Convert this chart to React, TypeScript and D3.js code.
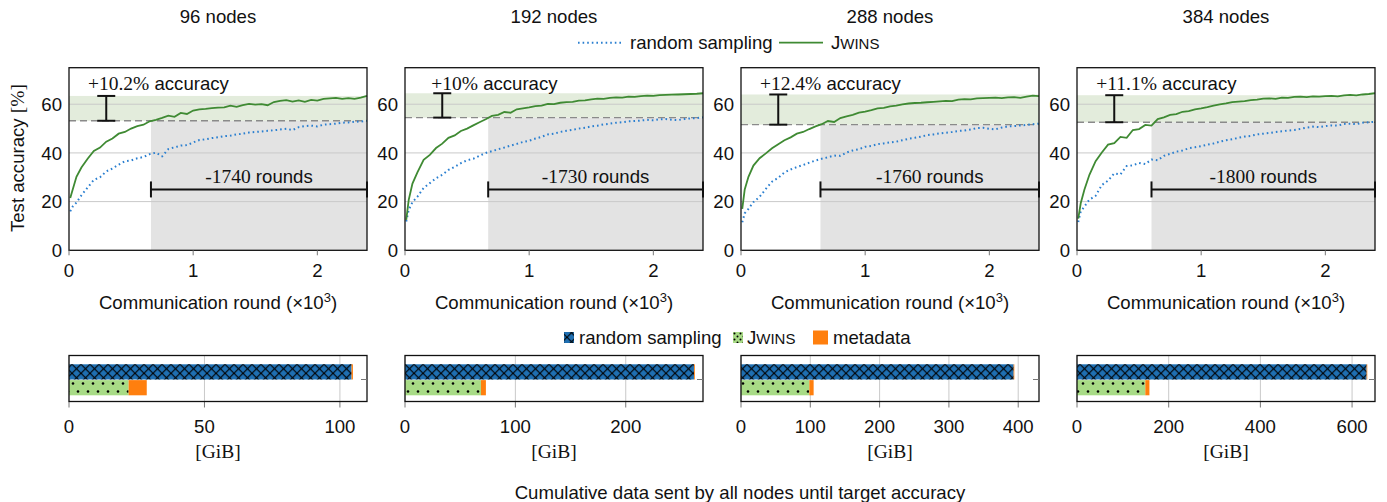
import React from 'react'
import * as d3 from 'd3'

// panel titles
const nodeCounts = ['96 nodes', '192 nodes', '288 nodes', '384 nodes']

// communication rounds (x10^3) where accuracy was sampled
const rounds = [
	0.01, 0.03, 0.06, 0.1, 0.15, 0.2, 0.25, 0.3, 0.35, 0.4, 0.45, 0.5, 0.55, 0.6, 0.65, 0.7, 0.75,
	0.8, 0.85, 0.9, 0.95, 1.0, 1.05, 1.1, 1.15, 1.2, 1.25, 1.3, 1.35, 1.4, 1.45, 1.5, 1.55, 1.6,
	1.65, 1.7, 1.75, 1.8, 1.85, 1.9, 1.95, 2.0, 2.05, 2.1, 2.15, 2.2, 2.25, 2.3, 2.35, 2.4,
]

// test accuracy [%]
const random96 = [
	16.0, 18.0, 19.6, 22.6, 25.8, 28.9, 30.0, 32.4, 33.6, 35.2, 36.6, 36.9, 37.8, 38.3, 39.5, 40.1,
	38.6, 41.6, 42.3, 43.0, 43.2, 44.3, 45.3, 45.6, 46.1, 46.4, 46.9, 47.1, 47.6, 47.9, 48.4, 48.6,
	48.8, 49.1, 49.3, 49.6, 49.9, 49.4, 50.6, 51.0, 51.2, 50.9, 51.6, 51.8, 52.0, 52.4, 52.5, 52.8,
	52.9, 53.2,
]
const jwins96 = [
	21.5, 25.0, 30.2, 34.0, 37.6, 40.8, 42.2, 44.6, 45.9, 47.9, 48.6, 50.0, 51.0, 51.6, 53.0, 53.6,
	54.4, 55.3, 54.8, 56.4, 56.0, 57.4, 57.9, 58.1, 58.4, 58.6, 58.7, 59.4, 58.9, 59.6, 60.1, 59.8,
	60.0, 59.6, 60.9, 61.4, 61.7, 61.1, 61.6, 61.0, 61.8, 61.5, 62.2, 62.4, 62.6, 62.2, 62.5, 62.2,
	62.7, 63.4,
]
const random192 = [
	11.8, 16.6, 19.8, 22.0, 25.6, 27.6, 29.6, 31.0, 33.0, 34.3, 35.8, 37.0, 37.6, 38.8, 40.0, 40.7,
	41.5, 42.2, 43.0, 43.7, 44.5, 45.0, 45.9, 46.6, 47.6, 47.9, 48.6, 49.1, 49.5, 50.0, 50.3, 50.9,
	51.2, 51.7, 52.0, 52.4, 52.6, 53.0, 53.1, 53.3, 53.6, 53.4, 53.8, 53.9, 53.6, 53.5, 53.9, 54.2,
	54.3, 54.6,
]
const jwins192 = [
	12.5, 20.7, 27.4, 32.0, 37.2, 39.2, 42.0, 43.8, 46.2, 47.2, 49.0, 50.0, 51.3, 52.6, 53.8, 55.2,
	55.6, 56.8, 56.5, 57.9, 58.3, 58.7, 59.2, 59.4, 60.1, 60.0, 60.6, 60.9, 61.0, 61.5, 61.6, 62.0,
	62.3, 62.2, 62.6, 62.8, 62.7, 63.1, 63.0, 63.3, 63.5, 63.4, 63.7, 63.8, 63.9, 64.0, 64.1, 64.2,
	64.3, 64.5,
]
const random288 = [
	11.5, 15.2, 17.0, 19.8, 22.0, 25.2, 28.2, 29.8, 32.0, 33.2, 34.2, 35.0, 36.0, 36.9, 37.6, 38.2,
	38.9, 38.8, 40.2, 41.0, 41.5, 42.5, 42.9, 43.6, 43.9, 44.3, 44.6, 45.2, 45.8, 46.2, 46.7, 47.3,
	47.6, 48.0, 48.3, 48.6, 49.0, 49.2, 49.6, 50.2, 50.3, 49.9, 49.7, 50.4, 50.9, 51.0, 51.3, 51.5,
	51.8, 52.0,
]
const jwins288 = [
	17.0, 25.0, 30.2, 34.8, 37.8, 39.8, 41.9, 43.6, 45.2, 46.4, 47.9, 48.6, 49.8, 50.9, 51.8, 53.1,
	52.7, 54.3, 55.0, 55.6, 56.5, 57.0, 57.6, 58.3, 58.5, 59.1, 59.4, 59.9, 60.3, 60.5, 60.6, 60.8,
	61.0, 61.2, 61.4, 61.3, 61.9, 62.1, 62.0, 62.4, 62.5, 62.6, 62.7, 62.5, 62.8, 62.9, 62.6, 63.1,
	63.5, 63.3,
]
const random384 = [
	11.6, 15.9, 18.0, 20.8, 22.4, 26.8, 28.6, 31.6, 31.2, 34.6, 34.9, 35.9, 35.4, 37.3, 37.0, 38.8,
	39.6, 40.5, 41.0, 41.9, 42.3, 42.8, 43.4, 43.9, 44.6, 45.2, 45.6, 46.2, 46.7, 47.0, 47.6, 47.9,
	48.2, 48.6, 48.9, 49.2, 49.4, 49.9, 50.4, 50.8, 50.6, 51.0, 51.3, 51.2, 51.9, 52.0, 51.8, 52.4,
	52.6, 52.8,
]
const jwins384 = [
	13.0, 19.3, 25.0, 31.0, 36.6, 40.2, 43.4, 44.0, 46.6, 46.2, 49.4, 49.8, 51.5, 51.2, 53.9, 54.6,
	55.6, 55.9, 56.9, 57.2, 57.9, 58.3, 58.8, 59.4, 59.9, 60.3, 60.9, 61.1, 61.3, 61.7, 61.9, 62.3,
	62.4, 62.2, 62.7, 62.6, 63.0, 63.1, 62.9, 63.2, 63.1, 63.3, 63.4, 63.2, 63.6, 63.8, 63.6, 64.0,
	64.2, 64.5,
]
const randomAcc = [random96, random192, random288, random384]
const jwinsAcc = [jwins96, jwins192, jwins288, jwins384]

// annotations
const targetAcc = [53.2, 54.5, 51.6, 52.6]
const accGain = [10.2, 10, 12.4, 11.1]
const roundsSaved = [1740, 1730, 1760, 1800]

// cumulative data [GiB]
const gibRandom = [104.3, 261.8, 393.4, 631.7]
const gibRandomMeta = [0.5, 0.8, 1.0, 1.5]
const gibJwins = [22.0, 68.8, 98.6, 149]
const gibJwinsMeta = [6.7, 4.5, 6.2, 9]
const gibMax = [110, 270, 430, 650]
const gibTicks = [
	[0, 50, 100],
	[0, 100, 200],
	[0, 100, 200, 300, 400],
	[0, 200, 400, 600],
]
const roundTicks = [0, 1, 2]
const accTicks = [0, 20, 40, 60]

const sans = 'Liberation Sans, Arial, Helvetica, sans-serif'
const serif = 'Liberation Serif, Times New Roman, serif'
const blue = '#2a7fd0'
const green = '#3f8a33'
const barBlue = '#1f6fb2'
const barGreen = '#a8db86'
const orange = '#ff7f0e'

const panelLeft = [69, 405, 741, 1077]
const panelWidth = 298
const accTop = 67.7
const accBottom = 250.3
const barTop = 355.5
const barBottom = 401.5

const AccuracyPanel = ({ i }) => {
	const left = panelLeft[i]
	const x = d3.scaleLinear().domain([0, 2.4]).range([left, left + panelWidth])
	const y = d3.scaleLinear().domain([0, 75]).range([accBottom, accTop])
	const line = d3
		.line()
		.x((d, k) => x(rounds[k]))
		.y(d => y(d))
	const target = targetAcc[i]
	const top = target + accGain[i]
	const start = 2.4 - roundsSaved[i] / 1000
	const mid = (start + 2.4) / 2

	return (
		<g>
			<text x={left + panelWidth / 2} y={22.5} textAnchor='middle'>
				{nodeCounts[i]}
			</text>
			{/* shaded areas */}
			<rect x={x(start)} y={y(target)} width={x(2.4) - x(start)} height={y(0) - y(target)} fill='#e3e3e3' />
			<rect x={x(0)} y={y(top)} width={x(2.4) - x(0)} height={y(target) - y(top)} fill='#e3ecdc' />
			{accTicks.slice(1).map(t => (
				<line key={t} x1={x(0)} x2={x(2.4)} y1={y(t)} y2={y(t)} stroke='#c9c9c9' strokeWidth={1} />
			))}
			<line x1={x(0)} x2={x(2.4)} y1={y(target)} y2={y(target)} stroke='#8a8a8a' strokeWidth={1.4} strokeDasharray='7 4' />
			<path d={line(randomAcc[i])} fill='none' stroke={blue} strokeWidth={2} strokeDasharray='1.6 3' />
			<path d={line(jwinsAcc[i])} fill='none' stroke={green} strokeWidth={1.8} />
			{/* accuracy gain bracket */}
			<g stroke='#111' strokeWidth={2}>
				<line x1={x(0.3)} x2={x(0.3)} y1={y(target)} y2={y(top)} />
				<line x1={x(0.3) - 9} x2={x(0.3) + 9} y1={y(target)} y2={y(target)} />
				<line x1={x(0.3) - 9} x2={x(0.3) + 9} y1={y(top)} y2={y(top)} />
			</g>
			<text x={x(0.72)} y={y(68.6)} dy='0.36em' textAnchor='middle'>
				<tspan fontFamily={serif} fontSize={19.5}>{`+${accGain[i]}%`}</tspan> accuracy
			</text>
			{/* rounds saved bracket */}
			<g stroke='#111' strokeWidth={2}>
				<line x1={x(start)} x2={x(2.4)} y1={y(25)} y2={y(25)} />
				<line x1={x(start)} x2={x(start)} y1={y(25) - 8} y2={y(25) + 8} />
				<line x1={x(2.4)} x2={x(2.4)} y1={y(25) - 8} y2={y(25) + 8} />
			</g>
			<text x={x(mid)} y={y(30.3)} dy='0.36em' textAnchor='middle'>
				<tspan fontFamily={serif} fontSize={19.5}>{`-${roundsSaved[i]}`}</tspan> rounds
			</text>
			{/* frame and ticks */}
			<rect x={x(0)} y={accTop} width={panelWidth} height={accBottom - accTop} fill='none' stroke='#111' strokeWidth={1.3} />
			{roundTicks.map(t => (
				<g key={t}>
					<line x1={x(t)} x2={x(t)} y1={accBottom} y2={accBottom + 5} stroke='#777' />
					<text x={x(t)} y={270} dy='0.36em' textAnchor='middle'>
						{t}
					</text>
				</g>
			))}
			{accTicks.map(t => (
				<text key={t} x={left - 7} y={y(t)} dy='0.36em' textAnchor='end'>
					{t}
				</text>
			))}
			<text x={left + panelWidth / 2} y={302} dy='0.36em' textAnchor='middle'>
				Communication round (×10
				<tspan dy={-7} fontSize={13}>
					3
				</tspan>
				<tspan dy={7}>)</tspan>
			</text>
		</g>
	)
}

const DataPanel = ({ i }) => {
	const left = panelLeft[i]
	const x = d3.scaleLinear().domain([0, gibMax[i]]).range([left, left + panelWidth])
	const y = d3.scaleBand().domain(['random sampling', 'JWINS']).range([364.3, 395.3]).paddingInner(0.04)
	const bars = [
		{ key: 'random sampling', value: gibRandom[i], meta: gibRandomMeta[i], fill: 'url(#crosshatch)', base: barBlue },
		{ key: 'JWINS', value: gibJwins[i], meta: gibJwinsMeta[i], fill: 'url(#dots)', base: barGreen },
	]
	return (
		<g>
			{gibTicks[i].map(t => (
				<g key={t}>
					<line x1={x(t)} x2={x(t)} y1={barTop} y2={barBottom} stroke='#c9c9c9' />
					<line x1={x(t)} x2={x(t)} y1={barBottom} y2={barBottom + 6} stroke='#777' />
					<text x={x(t)} y={426} dy='0.36em' textAnchor='middle'>
						{t}
					</text>
				</g>
			))}
			{bars.map(b => (
				<g key={b.key}>
					<rect x={x(0)} y={y(b.key)} width={x(b.value) - x(0)} height={y.bandwidth()} fill={b.base} />
					<rect x={x(0)} y={y(b.key)} width={x(b.value) - x(0)} height={y.bandwidth()} fill={b.fill} />
					<rect x={x(b.value)} y={y(b.key)} width={x(b.value + b.meta) - x(b.value)} height={y.bandwidth()} fill={orange} />
				</g>
			))}
			<rect x={left} y={barTop} width={panelWidth} height={barBottom - barTop} fill='none' stroke='#111' strokeWidth={1.3} />
			<line x1={left + panelWidth - 6} x2={left + panelWidth} y1={379.5} y2={379.5} stroke='#777' />
			<text x={left + panelWidth / 2} y={451} dy='0.36em' textAnchor='middle' fontFamily={serif} fontSize={19.5}>
				[GiB]
			</text>
		</g>
	)
}

const App = () => {
	return (
		<svg
			width={1387}
			height={502}
			style={{ position: 'absolute', left: 0, top: 0, background: '#fff' }}
			fontFamily={sans}
			fontSize={18.6}
			fill='#111'
		>
			<defs>
				<pattern id='crosshatch' patternUnits='userSpaceOnUse' x={0} y={364.3} width={9} height={9}>
					<path d='M0,0 L9,9 M9,0 L0,9' stroke='#000' strokeWidth={1.1} />
				</pattern>
				<pattern id='dots' patternUnits='userSpaceOnUse' x={0} y={380} width={10} height={16}>
					<circle cx={3} cy={3.5} r={1.3} fill='#000' />
					<circle cx={8} cy={11.5} r={1.3} fill='#000' />
				</pattern>
				<pattern id='legendDots' patternUnits='userSpaceOnUse' x={733} y={332} width={6} height={6}>
					<circle cx={1.5} cy={1.5} r={1} fill='#000' />
					<circle cx={4.5} cy={4.5} r={1} fill='#000' />
				</pattern>
			</defs>
			<rect width={1387} height={502} fill='#fff' />

			{/* top legend */}
			<line x1={578} x2={623} y1={42.7} y2={42.7} stroke={blue} strokeWidth={2} strokeDasharray='1.6 3' />
			<text x={630} y={42.7} dy='0.36em'>
				random sampling
			</text>
			<line x1={779} x2={823} y1={42.7} y2={42.7} stroke={green} strokeWidth={1.8} />
			<text x={831} y={42.7} dy='0.36em'>
				J<tspan fontSize={15}>WINS</tspan>
			</text>

			<text transform='translate(24,158) rotate(-90)' textAnchor='middle'>
				Test accuracy <tspan fontFamily={serif} fontSize={19.5}>[%]</tspan>
			</text>

			{nodeCounts.map((n, i) => (
				<AccuracyPanel key={n} i={i} />
			))}

			{/* bottom legend */}
			<rect x={564} y={332} width={10} height={11} fill={barBlue} />
			<rect x={564} y={332} width={10} height={11} fill='url(#crosshatch)' />
			<text x={579} y={337.5} dy='0.36em'>
				random sampling
			</text>
			<rect x={733} y={332} width={10} height={11} fill={barGreen} />
			<rect x={733} y={332} width={10} height={11} fill='url(#legendDots)' />
			<text x={747} y={337.5} dy='0.36em'>
				J<tspan fontSize={15}>WINS</tspan>
			</text>
			<rect x={813} y={330.5} width={15} height={14} fill={orange} />
			<text x={833} y={337.5} dy='0.36em'>
				metadata
			</text>

			{nodeCounts.map((n, i) => (
				<DataPanel key={n} i={i} />
			))}

			<text x={740} y={492} dy='0.36em' textAnchor='middle'>
				Cumulative data sent by all nodes until target accuracy
			</text>
		</svg>
	)
}

export default App
